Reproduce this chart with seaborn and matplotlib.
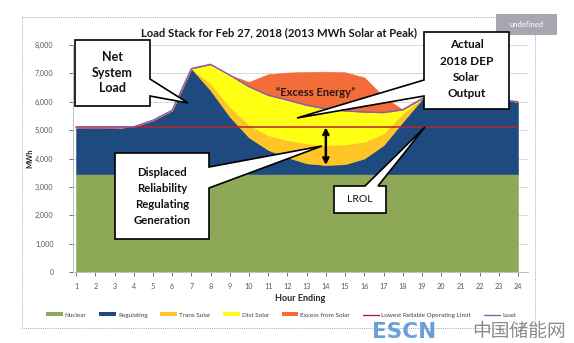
import numpy as np
import pandas as pd
import seaborn as sns
import matplotlib
matplotlib.use("Agg")
import matplotlib.pyplot as plt
from matplotlib.patches import Polygon, Rectangle
from matplotlib.lines import Line2D

# ---------------- data ----------------
hours = list(range(1, 25))
nuclear = [3450] * 24
regulating = [1630, 1620, 1630, 1670, 1900, 2250, 3720, 2950, 2020, 1290, 850, 590,
              380, 320, 350, 550, 1020, 1840, 2640, 2700, 2700, 2670, 2630, 2550]
trans_solar = [0, 0, 0, 0, 0, 0, 0, 240, 350, 440, 520, 610,
               700, 700, 700, 590, 410, 300, 20, 0, 0, 0, 0, 0]
dist_solar = [0, 0, 0, 0, 0, 0, 0, 680, 1120, 1350, 1410, 1410,
              1350, 1280, 1180, 1050, 740, 130, 0, 0, 0, 0, 0, 0]
excess_solar = [0, 0, 0, 0, 0, 0, 0, 0, 0, 170, 740, 970,
                1170, 1310, 1360, 1220, 560, 0, 0, 0, 0, 0, 0, 0]
lrol = [5100] * 24
load = [5080, 5070, 5080, 5120, 5350, 5700, 7170, 7320, 6940, 6530, 6230, 6060,
        5880, 5750, 5680, 5640, 5620, 5720, 6110, 6150, 6150, 6120, 6080, 6000]
yticks = [0, 1000, 2000, 3000, 4000, 5000, 6000, 7000, 8000]
ytick_labels = ["0", "1,000", "2,000", "3,000", "4,000", "5,000", "6,000", "7,000", "8,000"]

series_names = ["Nuclear", "Regulating", "Trans Solar", "Dist Solar", "Excess from Solar"]
series_vals = [nuclear, regulating, trans_solar, dist_solar, excess_solar]
colors = ["#8DA856", "#1F4A80", "#FFC526", "#FFFF14", "#F36C3A"]
lrol_color = "#B0262E"
load_color = "#8060B8"

W, H = 574, 343
sns.set_theme(style="white")
plt.rcParams["font.family"] = ["Lato", "DejaVu Sans"]

fig = plt.figure(figsize=(W / 100, H / 100), dpi=100)
fig.patch.set_facecolor("white")

def fx(x):
    return x / W

def fy(y):
    return 1 - y / H

left, right, top, bottom = 73, 528, 45, 272
ax = fig.add_axes([fx(left), fy(bottom), fx(right) - fx(left), (bottom - top) / H])

# stacked areas
df = pd.DataFrame({"hour": hours})
base = np.zeros(len(hours))
for name, vals, c in zip(series_names, series_vals, colors):
    v = np.asarray(vals, dtype=float)
    ax.fill_between(df["hour"], base, base + v, facecolor=c, edgecolor=c,
                    linewidth=0.4, zorder=2)
    base = base + v

lines_df = pd.DataFrame({"hour": hours, "lrol": lrol, "load": load})
sns.lineplot(data=lines_df, x="hour", y="lrol", color=lrol_color, linewidth=1.1, ax=ax, zorder=4)
sns.lineplot(data=lines_df, x="hour", y="load", color=load_color, linewidth=1.0, ax=ax, zorder=5)

ax.set_xlim(0.84, 24.52)
ax.set_ylim(0, 8000)
ax.set_yticks(yticks)
ax.set_yticklabels(ytick_labels)
ax.set_xticks(hours)
ax.set_xticklabels([str(h) for h in hours])
ax.grid(axis="y", color="#D9D9D9", linewidth=0.7, zorder=0)
ax.set_axisbelow(True)
for s in ["top", "right"]:
    ax.spines[s].set_visible(False)
for s in ["left", "bottom"]:
    ax.spines[s].set_color("#BFBFBF")
    ax.spines[s].set_linewidth(0.7)
ax.tick_params(axis="both", labelsize=5.2, colors="#595959", length=3, width=0.6,
               direction="out", left=True, bottom=True)
ax.tick_params(axis="y", pad=11)
ax.tick_params(axis="x", pad=5)
ax.set_xlabel("Hour Ending", fontsize=6.5, fontweight="bold", color="#262626", labelpad=3)
ax.set_ylabel("MWh", fontsize=5.5, fontweight="bold", color="#262626", labelpad=1)

# double-headed arrow at hour 14
i14 = hours.index(14)
ax.annotate("", xy=(14, nuclear[i14] + regulating[i14]), xytext=(14, lrol[i14]),
            arrowprops=dict(arrowstyle="<->", color="black", lw=1.8, mutation_scale=9,
                            shrinkA=0, shrinkB=0), zorder=6)

# legend
handles = [Rectangle((0, 0), 1, 1, facecolor=c, edgecolor="none") for c in colors]
handles += [Line2D([0], [0], color=lrol_color, lw=1.0), Line2D([0], [0], color=load_color, lw=1.0)]
labels = series_names + ["Lowest Reliable Operating Limit", "Load"]
fig.legend(handles, labels, loc="center", bbox_to_anchor=(fx(281), fy(315)), ncol=7,
           fontsize=4.6, frameon=False, handlelength=2.6, handleheight=0.6,
           columnspacing=2.0, handletextpad=0.3, labelcolor="#404040",
           borderpad=0.1)

# overlay in pixel coordinates
ov = fig.add_axes([0, 0, 1, 1], zorder=10)
ov.set_xlim(0, W)
ov.set_ylim(H, 0)
ov.axis("off")
ov.patch.set_visible(False)

# chart border and "undefined" tag
ov.add_patch(Rectangle((22, 17), 513, 311, fill=False, edgecolor="#8FA8CC",
                       linestyle=(0, (1, 1.2)), linewidth=0.7))
ov.add_patch(Rectangle((496, 14), 61, 21, facecolor="#A7A7B1", edgecolor="none"))
ov.text(526.5, 24.5, "undefined", fontsize=5.5, color="white", ha="center", va="center")

ov.text(279, 33, "Load Stack for Feb 27, 2018 (2013 MWh Solar at Peak)", fontsize=8.1,
        fontweight="bold", color="#1a1a1a", ha="center", va="center")

def callout(pts):
    ov.add_patch(Polygon(pts, closed=True, facecolor="white", edgecolor="black",
                         linewidth=1.2, joinstyle="miter"))

callout([(75, 40), (150, 40), (150, 79), (188, 103), (150, 96), (150, 106), (75, 106)])
for t, y in zip(["Net", "System", "Load"], [57, 73, 88.5]):
    ov.text(112.5, y, t, fontsize=9, fontweight="bold", ha="center", va="center", color="#111")

callout([(424, 32), (509, 32), (509, 109), (424, 109), (424, 96), (297, 118), (424, 80)])
for t, y in zip(["Actual", "2018 DEP", "Solar", "Output"], [45, 61.5, 77.5, 93.5]):
    ov.text(466.5, y, t, fontsize=8.5, fontweight="bold", ha="center", va="center", color="#111")

callout([(115, 153), (209, 153), (209, 167), (322, 146), (209, 188), (209, 239), (115, 239)])
for t, y in zip(["Displaced", "Reliability", "Regulating", "Generation"], [172.5, 189, 205, 221]):
    ov.text(162, y, t, fontsize=8.2, fontweight="bold", ha="center", va="center", color="#111")

callout([(334, 186), (365, 186), (425, 127), (378, 186), (386, 186), (386, 213), (334, 213)])
ov.text(360, 200, "LROL", fontsize=7.5, ha="center", va="center", color="#111")

ov.text(316, 92.5, "\u201cExcess Energy\u201d", fontsize=8, fontweight="bold", ha="center",
        va="center", color="#2a1a14")

# watermark
ov.text(372, 342, "ESCN", fontsize=15.5, fontweight="bold", color="#6A9FD9", ha="left",
        va="bottom", family=["Liberation Sans Narrow", "DejaVu Sans"])
ov.text(472, 342, "中国储能网", fontsize=13.5, color="#8A8A8A", ha="left", va="bottom",
        family=["Noto Sans CJK SC", "DejaVu Sans"])

fig.savefig("out.png", dpi=100)
